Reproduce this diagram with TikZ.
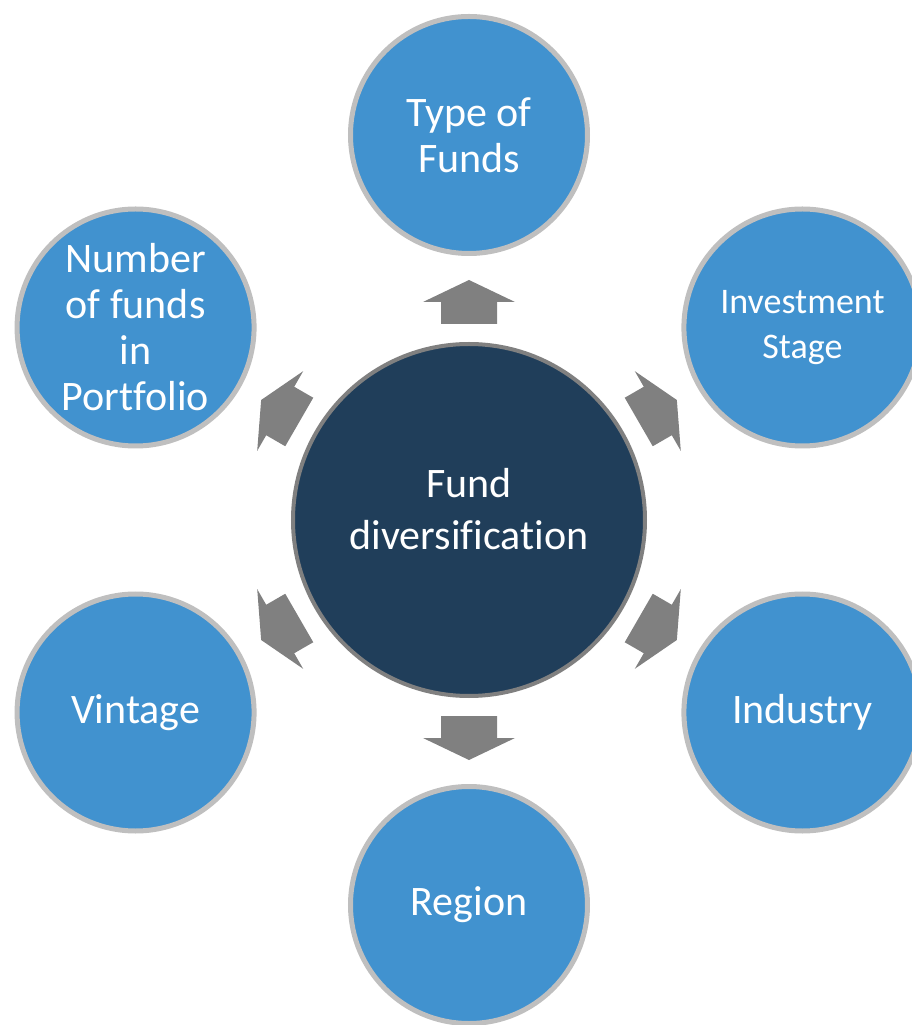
\documentclass[tikz,border=0pt]{standalone}
\usepackage{fontspec}
\setmainfont{Carlito}[Ligatures={NoCommon,NoContextual}]
\usepackage{tikz}
\usetikzlibrary{calc}

\definecolor{hubblue}{HTML}{203E5A}
\definecolor{leafblue}{HTML}{4192CF}
\definecolor{leafring}{HTML}{BFBFBF}
\definecolor{arrowgray}{HTML}{808080}

\begin{document}
\begin{tikzpicture}[x=1pt,y=1pt,
    hub/.style={circle,fill=hubblue,draw=arrowgray,line width=4pt,minimum size=352pt,
        text=white,font=\fontsize{42}{52}\selectfont},
    leaf/.style={circle,fill=leafblue,draw=leafring,line width=5pt,minimum size=237pt,
        text=white,align=center,font=\fontsize{42}{46}\selectfont},
    blockarrow/.style={fill=arrowgray}]
        \useasboundingbox (-469,-505) rectangle (443,520);
        \node[hub] (fund) at (0,0)
            {\raisebox{0pt}[\height][\dimexpr\depth+14pt\relax]{\begin{tabular}{@{}c@{}}Fund\\diversification\end{tabular}}};
        \node[leaf] (type) at (90:385) {Type of\\Funds};
        \node[leaf,font=\fontsize{36}{45}\selectfont] (stage) at (30:385) {Investment\\Stage};
        \node[leaf] (industry) at (-30:385) {Industry};
        \node[leaf] (region) at (-90:385) {Region};
        \node[leaf] (vintage) at (210:385) {Vintage};
        \node[leaf] (number) at (150:385) {Number\\of funds\\in\\Portfolio};
        % arrows pointing out of the hub
        \foreach \a in {90,30,-30,-90,210,150}
        \fill[blockarrow,rotate=\a] (196,-28) -- (218,-28) -- (218,-46) -- (240,0)
            -- (218,46) -- (218,28) -- (196,28) -- cycle;
    \end{tikzpicture}
\end{document}
